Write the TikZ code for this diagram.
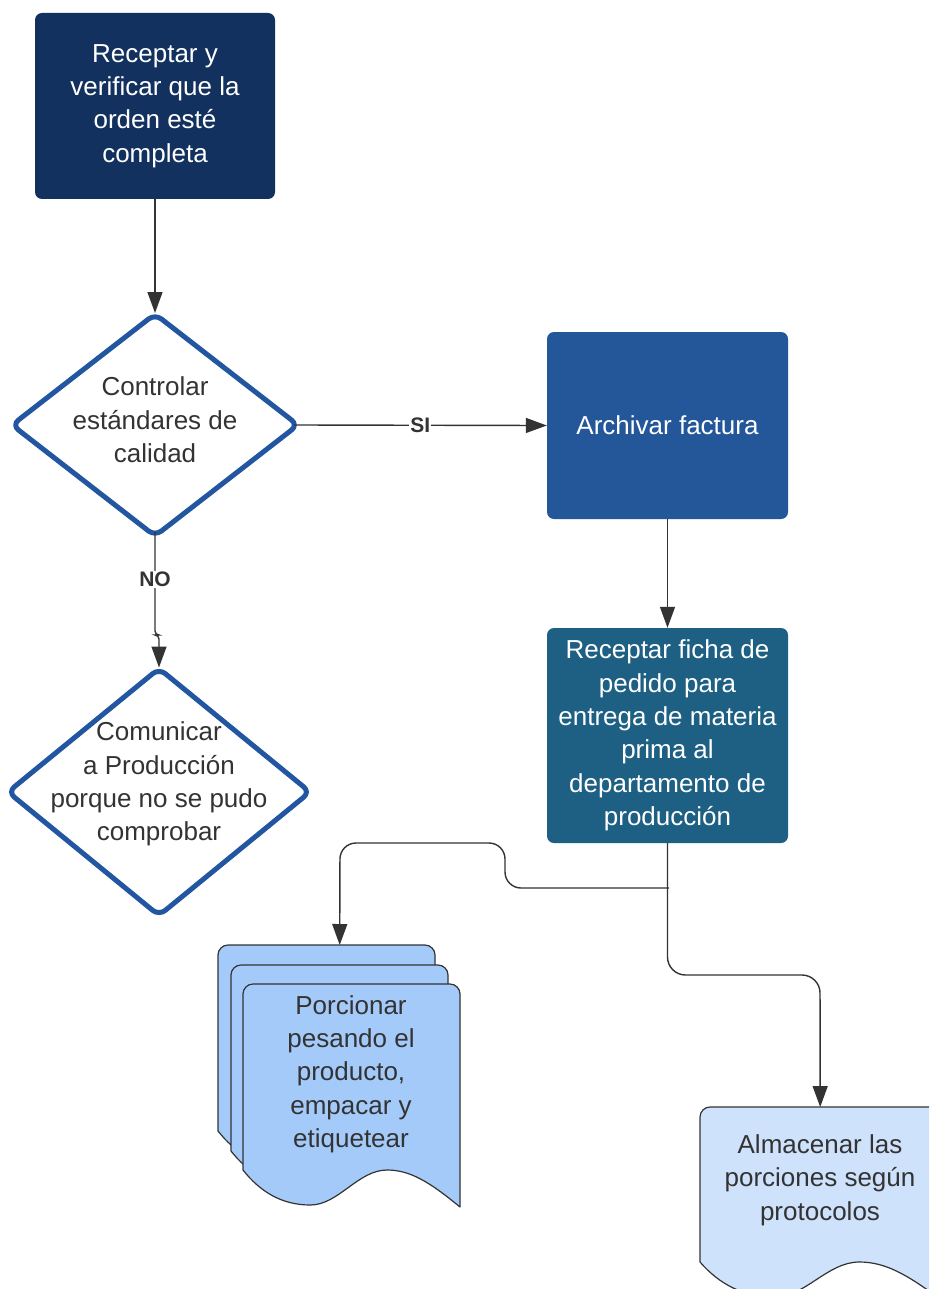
\documentclass[tikz,border=0pt]{standalone}
\usepackage{fontspec}
\setmainfont{Liberation Sans}
\usetikzlibrary{shapes.geometric,arrows.meta}

\definecolor{ink}{HTML}{333333}
\definecolor{navy}{HTML}{13315E}
\definecolor{archblue}{HTML}{24569A}
\definecolor{teal}{HTML}{1E6083}
\definecolor{dblue}{HTML}{2356A0}
\definecolor{docblue}{HTML}{A4CAFA}
\definecolor{doclight}{HTML}{CFE2FC}

% document sheet with a wavy lower edge:
% #1 left, #2 top, #3 width, #4 height of the straight left edge, #5 fill
\newcommand\docpage[5]{%
  \draw[page, fill=#5, shift={(#1,#2)}]
    (0,#4) -- (0,10) .. controls (0,4.5) and (4.5,0) .. (10,0)
    -- ({#3-10},0) .. controls ({#3-4.5},0) and (#3,4.5) .. (#3,10)
    -- (#3,{#4+37})
    .. controls ({#3*0.86},{#4+12}) and ({#3*0.77},#4) .. ({#3*0.664},#4)
    .. controls ({#3*0.53},#4) and ({#3*0.44},{#4+35}) .. ({#3*0.31},{#4+35})
    .. controls ({#3*0.18},{#4+35}) and ({#3*0.08},{#4+22}) .. (0,#4)
    -- cycle;}

\begin{document}
\begin{tikzpicture}[x=1pt,y=-1pt,
  txt/.style={font=\fontsize{26}{33.3}\selectfont, align=center, text=ink, inner sep=0pt},
  procbox/.style={rectangle, rounded corners=7pt, inner sep=0pt,
    font=\fontsize{26}{33.3}\selectfont, align=center, text=white},
  decision/.style={diamond, draw=dblue, line width=5pt, line join=round,
    rounded corners=8pt, fill=white, inner sep=0pt, outer sep=0pt},
  conn/.style={draw=ink, line width=1.4pt, -{Triangle[length=21pt,width=15pt]}},
  lbl/.style={font=\fontsize{21}{24}\selectfont\bfseries, text=ink, fill=white, inner sep=1pt},
  page/.style={draw=ink, line width=1.2pt, line join=round},
  frame/.style={rectangle, inner sep=0pt, anchor=north west},
]
\useasboundingbox (0,0) rectangle (929,1289);
\clip (0,0) rectangle (929,1289);
\fill[white] (0,0) rectangle (929,1289);

% process boxes
\node[procbox, fill=navy, minimum width=240pt, minimum height=186pt] (top) at (155,106)
  {Receptar y\\verificar que la\\orden esté\\completa};
\node[procbox, fill=archblue, minimum width=241pt, minimum height=187pt] (arch) at (667.5,425.5)
  {Archivar factura};
\node[procbox, fill=teal, minimum width=241pt, minimum height=215pt] (ficha) at (667.5,735.5)
  {Receptar ficha de\\pedido para\\entrega de materia\\prima al\\departamento de\\producción};

% decisions
\node[decision, minimum width=286pt, minimum height=222pt] (d1) at (155,425) {};
\node[txt] (d1t) at (155,420) {Controlar\\estándares de\\calidad};
\node[decision, minimum width=302pt, minimum height=247pt] (d2) at (159,792) {};
\node[txt] (d2t) at (159,784) {Comunicar\\a Producción\\porque no se pudo\\comprobar};

% stacked documents
\docpage{218}{945}{217}{186}{docblue}
\docpage{231}{965}{217}{186}{docblue}
\docpage{243}{984}{217}{186}{docblue}
\node[frame, minimum width=217pt, minimum height=223pt] (porcback) at (218,945) {};
\node[txt] (porc) at (351,1074) {Porcionar\\pesando el\\producto,\\empacar y\\etiquetear};

% single document
\docpage{700}{1107}{240}{155}{doclight}
\node[frame, minimum width=240pt, minimum height=192pt] (alm) at (700,1107) {};
\node[txt] (almt) at (820,1180) {Almacenar las\\porciones según\\protocolos};

% connectors
\draw[conn] (top.south) -- ([yshift=1pt]d1.north);
\draw[conn] ([xshift=-4pt]d1.east) -- node[lbl] {SI} (arch.west);
\draw[conn, rounded corners=4pt] ([yshift=4pt]d1.south) -- node[lbl, pos=0.46] {NO} (155,635)
  -| ([yshift=1pt]d2.north);
\draw[conn] (arch.south) -- (ficha.north);
\coordinate (split) at (669,888);
\draw[conn, rounded corners=18pt] (ficha.south) -- (667.5,975) -- (820,975) -- (alm.north);
\draw[conn, rounded corners=16pt] (split) -- (505,888) -- (505,843) -- (340,843)
  -- ([xshift=13pt]porcback.north);
\end{tikzpicture}
\end{document}
